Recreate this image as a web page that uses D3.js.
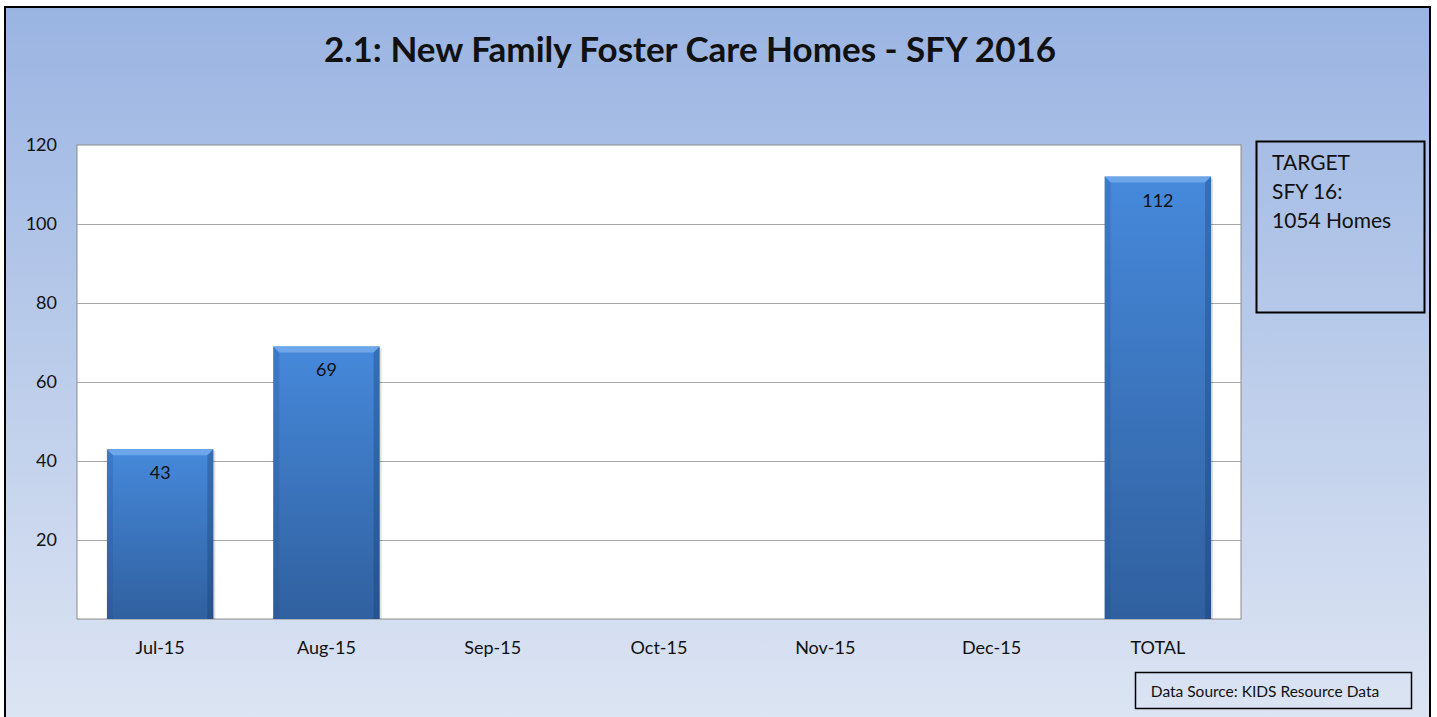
<!DOCTYPE html>
<html>
<head>
<meta charset="utf-8">
<script src="https://cdn.jsdelivr.net/npm/d3@7"></script>
<style>
  body { margin: 0; background: #fff; }
  svg text { font-family: Lato, "Open Sans", "Liberation Sans", sans-serif; }
</style>
</head>
<body>
<div class="chart"></div>
<script>
// chart data
const months = ["Jul-15", "Aug-15", "Sep-15", "Oct-15", "Nov-15", "Dec-15", "TOTAL"];
const homes = [43, 69, null, null, null, null, 112];
const yTicks = [20, 40, 60, 80, 100, 120];
const titleStr = "2.1: New Family Foster Care Homes - SFY 2016";
const targetLines = ["TARGET", "SFY 16:", "1054 Homes"];
const sourceStr = "Data Source: KIDS Resource Data";

const widthMax = 1437;
const heightMax = 717;

const plot = { left: 77, top: 145, right: 1241, bottom: 619 };

const svg = d3.select(".chart")
    .append("svg")
    .attr("width", widthMax)
    .attr("height", heightMax);

const defs = svg.append("defs");

// background gradient
const bg = defs.append("linearGradient")
    .attr("id", "bg").attr("x1", 0).attr("y1", 0).attr("x2", 0).attr("y2", 1);
bg.append("stop").attr("offset", "0%").attr("stop-color", "#9ab4e2");
bg.append("stop").attr("offset", "100%").attr("stop-color", "#dde5f3");

// bar gradient
const barGrad = defs.append("linearGradient")
    .attr("id", "barGrad").attr("x1", 0).attr("y1", 0).attr("x2", 0).attr("y2", 1);
barGrad.append("stop").attr("offset", "0%").attr("stop-color", "#4689db");
barGrad.append("stop").attr("offset", "100%").attr("stop-color", "#30609f");

svg.append("rect")
    .attr("x", 5).attr("y", 7)
    .attr("width", 1425).attr("height", 720)
    .attr("fill", "url(#bg)")
    .attr("stroke", "#000")
    .attr("stroke-width", 2);

// title
svg.append("text")
    .text(titleStr)
    .attr("x", 690)
    .attr("y", 62)
    .attr("text-anchor", "middle")
    .style("font-size", "35px")
    .style("font-weight", "bold")
    .attr("fill", "#111");

const x = d3.scaleBand()
    .domain(months)
    .range([plot.left, plot.right])
    .paddingInner(0.36)
    .paddingOuter(0.18);

const y = d3.scaleLinear()
    .domain([0, 120])
    .range([plot.bottom, plot.top]);

// plot area
svg.append("rect")
    .attr("x", plot.left).attr("y", plot.top)
    .attr("width", plot.right - plot.left)
    .attr("height", plot.bottom - plot.top)
    .attr("fill", "#fff")
    .attr("stroke", "#8c8c8c")
    .attr("stroke-width", 1);

// gridlines
svg.append("g")
    .selectAll("line")
    .data(yTicks.slice(0, -1))
    .enter()
        .append("line")
        .attr("x1", plot.left).attr("x2", plot.right)
        .attr("y1", (d) => Math.round(y(d)) + 0.5)
        .attr("y2", (d) => Math.round(y(d)) + 0.5)
        .attr("stroke", "#a6a6a6");

// y axis labels
svg.append("g")
    .selectAll("text")
    .data(yTicks)
    .enter()
        .append("text")
        .text((d) => d)
        .attr("x", 57)
        .attr("y", (d) => y(d) + 6)
        .attr("text-anchor", "end")
        .style("font-size", "18px")
        .attr("fill", "#111");

// x axis labels
svg.append("g")
    .selectAll("text")
    .data(months)
    .enter()
        .append("text")
        .text((d) => d)
        .attr("x", (d) => x(d) + x.bandwidth() / 2)
        .attr("y", 654)
        .attr("text-anchor", "middle")
        .style("font-size", "18px")
        .attr("fill", "#111");

// bars
const barData = months.map((m, i) => ({ m: m, v: homes[i] })).filter((d) => d.v != null);
const bars = svg.append("g").selectAll("g")
    .data(barData)
    .enter()
        .append("g");

bars.append("rect")
    .attr("x", (d) => x(d.m) + 2)
    .attr("y", (d) => y(d.v) + 2)
    .attr("width", x.bandwidth())
    .attr("height", (d) => y(0) - y(d.v) - 2)
    .attr("fill", "rgba(0,0,0,0.12)");

bars.append("rect")
    .attr("x", (d) => x(d.m))
    .attr("y", (d) => y(d.v))
    .attr("width", x.bandwidth())
    .attr("height", (d) => y(0) - y(d.v))
    .attr("fill", "url(#barGrad)");

// bevel: top light, sides a little darker
const bev = 6;
bars.append("path")
    .attr("d", (d) => {
        const x0 = x(d.m), x1 = x0 + x.bandwidth(), y0 = y(d.v);
        return `M${x0},${y0}L${x1},${y0}L${x1 - bev},${y0 + bev}L${x0 + bev},${y0 + bev}Z`;
    })
    .attr("fill", "#6ea6ea");
bars.append("path")
    .attr("d", (d) => {
        const x0 = x(d.m), y0 = y(d.v), y1 = y(0);
        return `M${x0},${y0}L${x0 + bev},${y0 + bev}L${x0 + bev},${y1}L${x0},${y1}Z`;
    })
    .attr("fill", "rgba(40,80,140,0.25)");
bars.append("path")
    .attr("d", (d) => {
        const x1 = x(d.m) + x.bandwidth(), y0 = y(d.v), y1 = y(0);
        return `M${x1},${y0}L${x1 - bev},${y0 + bev}L${x1 - bev},${y1}L${x1},${y1}Z`;
    })
    .attr("fill", "rgba(20,50,100,0.3)");

bars.append("text")
    .text((d) => d.v)
    .attr("x", (d) => x(d.m) + x.bandwidth() / 2)
    .attr("y", (d) => y(d.v) + 30)
    .attr("text-anchor", "middle")
    .style("font-size", "18px")
    .attr("fill", "#111");

// target box
svg.append("rect")
    .attr("x", 1256.5).attr("y", 141.5)
    .attr("width", 168).attr("height", 171)
    .attr("fill", "none")
    .attr("stroke", "#000")
    .attr("stroke-width", 2);
svg.append("g")
    .selectAll("text")
    .data(targetLines)
    .enter()
        .append("text")
        .text((d) => d)
        .attr("x", 1272)
        .attr("y", (d, i) => 170 + i * 29)
        .style("font-size", "21px")
        .attr("fill", "#111");

// data source box
svg.append("rect")
    .attr("x", 1135.5).attr("y", 672.5)
    .attr("width", 276).attr("height", 36)
    .attr("fill", "none")
    .attr("stroke", "#000")
    .attr("stroke-width", 1.5);
svg.append("text")
    .text(sourceStr)
    .attr("x", 1265)
    .attr("y", 697)
    .attr("text-anchor", "middle")
    .style("font-size", "15.5px")
    .attr("fill", "#111");
</script>
</body>
</html>
